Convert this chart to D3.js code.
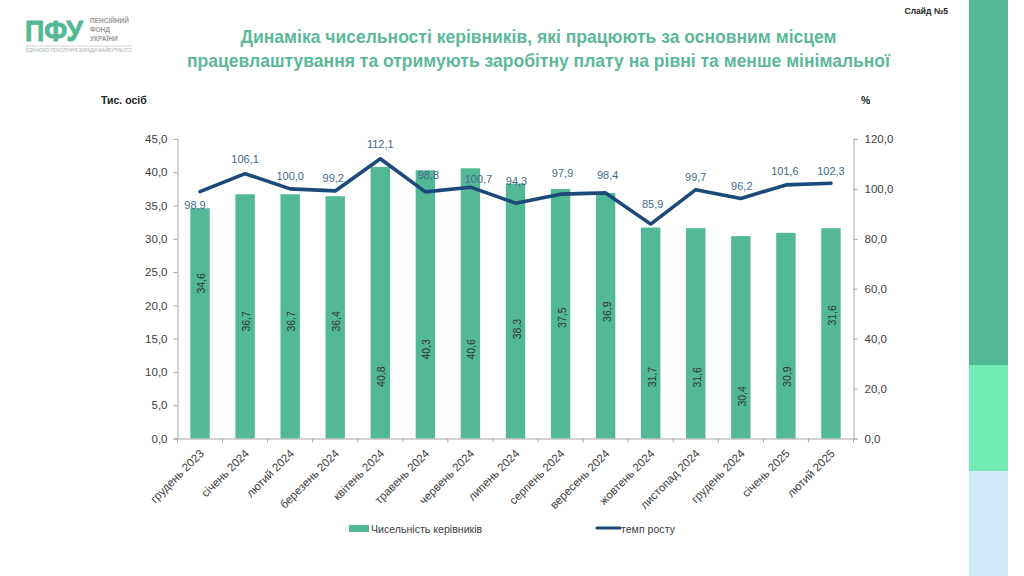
<!DOCTYPE html>
<html>
<head>
<meta charset="utf-8">
<script src="https://cdn.jsdelivr.net/npm/d3@7"></script>
<style>
    html, body { margin: 0; padding: 0; background: #fff; }
    text { font-family: "Liberation Sans", Arial, sans-serif; }
</style>
</head>
<body>
<svg id="chart" width="1024" height="576"></svg>
<script>
// chart data
var months = [
    'грудень 2023', 'січень 2024', 'лютий 2024', 'березень 2024', 'квітень 2024',
    'травень 2024', 'червень 2024', 'липень 2024', 'серпень 2024', 'вересень 2024',
    'жовтень 2024', 'листопад 2024', 'грудень 2024', 'січень 2025', 'лютий 2025'
];
var managers = [34.6, 36.7, 36.7, 36.4, 40.8, 40.3, 40.6, 38.3, 37.5, 36.9, 31.7, 31.6, 30.4, 30.9, 31.6];
var growth = [98.9, 106.1, 100.0, 99.2, 112.1, 98.8, 100.7, 94.3, 97.9, 98.4, 85.9, 99.7, 96.2, 101.6, 102.3];
var leftTicks = [0, 5, 10, 15, 20, 25, 30, 35, 40, 45];
var rightTicks = [0, 20, 40, 60, 80, 100, 120];

var GREEN = '#52B895';
var TITLE_GREEN = '#5DB89A';
var NAVY = '#1B4A7A';
var LABEL_BLUE = '#44688C';
var AXIS_GREY = '#A6A6A6';
var TEXT_GREY = '#404040';

var comma = function(v) {
    return d3.format('.1f')(v).replace('.', ',');
};

var svg = d3.select('#chart');

var margin = { left: 177.5, right: 853.5, top: 139, bottom: 438.5 };

var x = d3.scaleBand().domain(months).range([margin.left, margin.right]).paddingInner(0.57).paddingOuter(0.285);
var yLeft = d3.scaleLinear().domain([0, 45]).range([margin.bottom, margin.top]);
var yRight = d3.scaleLinear().domain([0, 120]).range([margin.bottom, margin.top]);

var center = function(d) {
    return x(d) + x.bandwidth() / 2;
};

// side strip
var stripStops = [0, 365, 471, 576];
var stripColors = [GREEN, '#74EDB4', '#D0EBFB'];
svg.selectAll('rect.strip').data(stripColors).enter().append('rect')
    .attr('class', 'strip')
    .attr('x', 969).attr('width', 39)
    .attr('y', function(d, i) { return stripStops[i]; })
    .attr('height', function(d, i) { return stripStops[i + 1] - stripStops[i]; })
    .attr('fill', function(d) { return d; });

// logo
svg.append('text').attr('x', 25).attr('y', 41).attr('font-size', 30).attr('font-weight', 700)
    .attr('fill', GREEN).attr('stroke', GREEN).attr('stroke-width', 0.8)
    .attr('textLength', 58).attr('lengthAdjust', 'spacingAndGlyphs').text('ПФУ');
['ПЕНСІЙНИЙ', 'ФОНД', 'УКРАЇНИ'].forEach(function(t, i) {
    svg.append('text').attr('x', 90).attr('y', 23 + i * 9).attr('font-size', 6.5).attr('font-weight', 700)
        .attr('fill', '#9A9A9A').text(t);
});
svg.append('line').attr('x1', 26).attr('x2', 132).attr('y1', 46).attr('y2', 46).attr('stroke', '#D5D5D5');
svg.append('text').attr('x', 26).attr('y', 52).attr('font-size', 4.6).attr('fill', '#A3AFAB')
    .attr('textLength', 106).text('ЄДНАЄМО ПОКОЛІННЯ ЗАРАДИ МАЙБУТНЬОГО');

svg.append('text').attr('x', 948).attr('y', 14).attr('text-anchor', 'end').attr('font-size', 8.5)
    .attr('font-weight', 700).attr('fill', '#222').text('Слайд №5');

// title, squeezed to the width of the original
var titleLines = [
    'Динаміка чисельності керівників, які працюють за основним місцем',
    'працевлаштування та отримують заробітну плату на рівні та менше мінімальної'
];
var titleWidths = [596, 703];
titleLines.forEach(function(t, i) {
    svg.append('text').attr('x', 538.5).attr('y', 43 + i * 24).attr('text-anchor', 'middle')
        .attr('font-size', 19).attr('font-weight', 700).attr('fill', TITLE_GREEN)
        .attr('textLength', titleWidths[i]).attr('lengthAdjust', 'spacingAndGlyphs').text(t);
});

svg.append('text').attr('x', 101).attr('y', 104).attr('font-size', 10.5).attr('font-weight', 700).attr('fill', '#222').text('Тис. осіб');
svg.append('text').attr('x', 861).attr('y', 104).attr('font-size', 10.5).attr('font-weight', 700).attr('fill', '#222').text('%');

// bars
svg.selectAll('rect.bar').data(managers).enter().append('rect')
    .attr('class', 'bar')
    .attr('x', function(d, i) { return x(months[i]); })
    .attr('width', x.bandwidth())
    .attr('y', function(d) { return yLeft(d); })
    .attr('height', function(d) { return margin.bottom - yLeft(d); })
    .attr('fill', GREEN);

// axes
var styleAxis = function(g) {
    g.selectAll('path, line').attr('stroke', AXIS_GREY);
    g.selectAll('text').attr('font-size', 11.5).attr('fill', TEXT_GREY)
        .style('font-family', '"Liberation Sans", Arial, sans-serif');
};

svg.append('g').attr('transform', 'translate(' + margin.left + ',0)')
    .call(d3.axisLeft(yLeft).tickValues(leftTicks).tickFormat(comma).tickSize(4).tickPadding(6).tickSizeOuter(4))
    .call(styleAxis);

svg.append('g').attr('transform', 'translate(' + margin.right + ',0)')
    .call(d3.axisRight(yRight).tickValues(rightTicks).tickFormat(comma).tickSize(4).tickPadding(7).tickSizeOuter(4))
    .call(styleAxis);

var xAxis = svg.append('g').attr('transform', 'translate(0,' + margin.bottom + ')')
    .call(d3.axisBottom(x).tickSize(0).tickPadding(8))
    .call(styleAxis);
xAxis.selectAll('text')
    .attr('text-anchor', 'end')
    .attr('dy', 0)
    .attr('transform', 'translate(-1,10) rotate(-45)');
xAxis.selectAll('.tick').select('line').remove();

// ticks sit between the categories
var step = x.step();
svg.selectAll('line.xtick').data(d3.range(months.length + 1)).enter().append('line')
    .attr('class', 'xtick')
    .attr('x1', function(d) { return margin.left + d * step; })
    .attr('x2', function(d) { return margin.left + d * step; })
    .attr('y1', margin.bottom)
    .attr('y2', margin.bottom + 4)
    .attr('stroke', AXIS_GREY);

// line
var line = d3.line()
    .x(function(d, i) { return center(months[i]); })
    .y(function(d) { return yRight(d); });

svg.append('path').datum(growth)
    .attr('d', line)
    .attr('fill', 'none')
    .attr('stroke', NAVY)
    .attr('stroke-width', 3.6)
    .attr('stroke-linejoin', 'round')
    .attr('stroke-linecap', 'round');

// the labels were placed by hand in the original, so each one gets a nudge
var barLabelNudge = [-40, 5, 5, 4, 74, 45, 46, 18, 4, -4, 44, 44, 59, 41, -18];
var lineLabelNudgeX = [-5, 0, 0, -2, 0, 3, 8, 1, 2, 2, 2, 0, 1, -1, 0];
var lineLabelNudgeY = [13, -15, -13, -13, -15, -17, -8, -22, -21, -18, -20, -13, -12, -14, -12];

svg.selectAll('text.barlabel').data(managers).enter().append('text')
    .attr('class', 'barlabel')
    .attr('text-anchor', 'middle')
    .attr('font-size', 10.5)
    .attr('fill', '#333')
    .attr('transform', function(d, i) {
        return 'translate(' + (center(months[i]) + 5) + ',' + (yLeft(d / 2) + barLabelNudge[i]) + ') rotate(-90)';
    })
    .text(comma);

svg.selectAll('text.linelabel').data(growth).enter().append('text')
    .attr('class', 'linelabel')
    .attr('x', function(d, i) { return center(months[i]) + lineLabelNudgeX[i]; })
    .attr('y', function(d, i) { return yRight(d) + lineLabelNudgeY[i]; })
    .attr('dy', '0.35em')
    .attr('text-anchor', 'middle')
    .attr('font-size', 11)
    .attr('fill', LABEL_BLUE)
    .text(comma);

// legend
svg.append('rect').attr('x', 349).attr('y', 525).attr('width', 20).attr('height', 7).attr('fill', GREEN);
svg.append('text').attr('x', 371).attr('y', 533).attr('font-size', 10.6).attr('fill', TEXT_GREY).text('Чисельність керівників');
svg.append('line').attr('x1', 597).attr('x2', 620).attr('y1', 528).attr('y2', 528)
    .attr('stroke', NAVY).attr('stroke-width', 3).attr('stroke-linecap', 'round');
svg.append('text').attr('x', 621).attr('y', 533).attr('font-size', 10.6).attr('fill', TEXT_GREY).text('темп росту');
</script>
</body>
</html>
